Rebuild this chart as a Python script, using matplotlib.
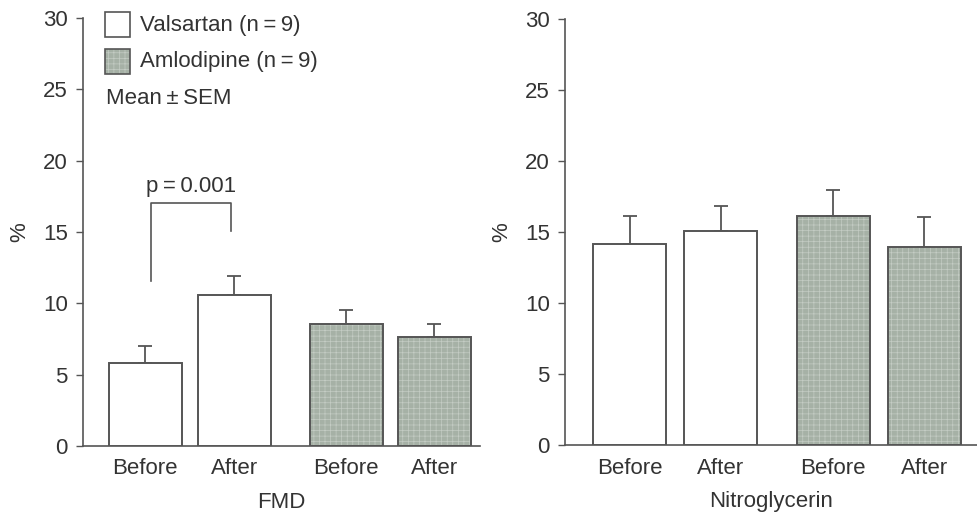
import matplotlib
matplotlib.use("Agg")
import matplotlib.pyplot as plt

plt.rcParams['font.family'] = ['Liberation Sans', 'DejaVu Sans']
plt.rcParams['hatch.linewidth'] = 0.5

# ---- data ----
tick_labels = ["Before", "After", "Before", "After"]
groups = ["Valsartan (n\u2009=\u20099)", "Amlodipine (n\u2009=\u20099)"]
fmd_mean = [5.85, 10.6, 8.55, 7.65]
fmd_sem = [1.15, 1.3, 1.0, 0.9]
ntg_mean = [14.15, 15.07, 16.1, 13.96]
ntg_sem = [1.95, 1.76, 1.86, 2.12]
p_text = "p\u2009=\u20090.001"
bracket_top = 17.0
bracket_left_bottom = 11.6
bracket_right_bottom = 15.05

FS = 16
TXT = '#333333'
EDGE = '#555555'
FILL = '#a6b1a6'
HATCH = '#c4ccc4'

fig = plt.figure(figsize=(9.77, 5.17), dpi=100)
ax1 = fig.add_axes([83/977, 1-446/517, 397/977, 428/517])
ax2 = fig.add_axes([565/977, 1-445/517, 412/977, 426/517])

def draw(ax, pos, means, sems, width, xlim, xlabel):
    for i, (p, m, s) in enumerate(zip(pos, means, sems)):
        amlo = i >= 2
        if amlo:
            ax.bar(p, m, width=width, color=FILL, hatch='+++', edgecolor=HATCH,
                   linewidth=0, zorder=2)
        ax.bar(p, m, width=width, fill=not amlo, facecolor='white',
               edgecolor=EDGE, linewidth=1.4, zorder=3)
        ax.errorbar(p, m, yerr=[[0], [s]], fmt='none', ecolor=EDGE,
                    elinewidth=1.3, capsize=5, capthick=1.3, zorder=1)
    ax.set_xlim(*xlim)
    ax.set_ylim(0, 30)
    ax.set_yticks([0, 5, 10, 15, 20, 25, 30])
    ax.set_xticks(pos)
    ax.set_xticklabels(tick_labels)
    ax.tick_params(axis='x', length=0, pad=9, labelsize=FS, labelcolor=TXT)
    ax.tick_params(axis='y', length=5, width=1, color=EDGE, labelsize=FS,
                   labelcolor=TXT, pad=6)
    for sp in ['top', 'right']:
        ax.spines[sp].set_visible(False)
    for sp in ['left', 'bottom']:
        ax.spines[sp].set_color(EDGE)
        ax.spines[sp].set_linewidth(1.2)
    ax.set_ylabel('%', fontsize=FS, color=TXT, labelpad=9)
    ax.set_xlabel(xlabel, fontsize=FS, color=TXT, labelpad=9)

pos1 = [1, 2, 3.26, 4.25]
pos2 = [1, 2, 3.24, 4.24]
draw(ax1, pos1, fmd_mean, fmd_sem, 0.82, (0.303, 4.763), 'FMD')
draw(ax2, pos2, ntg_mean, ntg_sem, 0.80, (0.29, 4.82), 'Nitroglycerin')

# significance bracket
bl = pos1[0] + 0.07
br = pos1[1] - 0.03
ax1.plot([bl, bl, br, br], [bracket_left_bottom, bracket_top, bracket_top, bracket_right_bottom],
         color=EDGE, lw=1.2, zorder=4)
ax1.text((bl + br) / 2, bracket_top + 0.45, p_text, ha='center', va='bottom',
         fontsize=FS, color=TXT)

# legend
ax1.add_patch(plt.Rectangle((105/977, 1-37/517), 25/977, 25/517, transform=fig.transFigure,
                            facecolor='white', edgecolor=EDGE, lw=1.2, clip_on=False))
ax1.add_patch(plt.Rectangle((105/977, 1-74/517), 25/977, 25/517, transform=fig.transFigure,
                            facecolor=FILL, hatch='+++', edgecolor=HATCH, lw=0, clip_on=False))
ax1.add_patch(plt.Rectangle((105/977, 1-74/517), 25/977, 25/517, transform=fig.transFigure,
                            fill=False, edgecolor=EDGE, lw=1.2, clip_on=False))
fig.text(140/977, 1-25/517, groups[0], fontsize=FS, color=TXT, va='center', ha='left')
fig.text(140/977, 1-61/517, groups[1], fontsize=FS, color=TXT, va='center', ha='left')
fig.text(106/977, 1-98/517, "Mean\u2009\u00b1\u2009SEM", fontsize=FS, color=TXT, va='center', ha='left')

fig.savefig('out.png', dpi=100)
